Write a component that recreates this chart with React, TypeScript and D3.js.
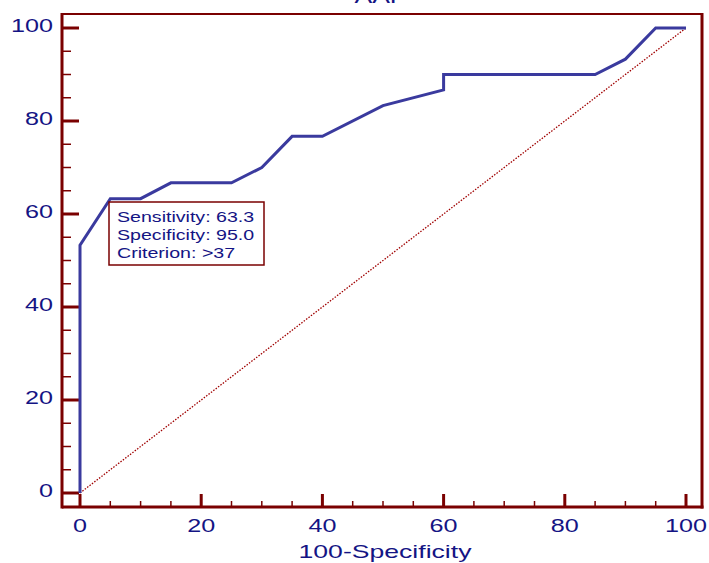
import React, {useEffect, useRef} from 'react';
import * as d3 from 'd3';

// ROC curve points (100-Specificity, Sensitivity)
const fpr = [0, 0, 5, 10, 15, 25, 30, 35, 40, 50, 60, 60, 85, 90, 95, 100];
const tpr = [0, 53.3, 63.3, 63.3, 66.7, 66.7, 70, 76.7, 76.7, 83.3, 86.7, 90, 90, 93.3, 100, 100];
const tickValues = [0, 20, 40, 60, 80, 100];
const minorTicks = [5, 10, 15, 25, 30, 35, 45, 50, 55, 65, 70, 75, 85, 90, 95];
const infoLines = ['Sensitivity: 63.3', 'Specificity: 95.0', 'Criterion: >37'];

export default function App() {
  const svgRef = useRef<SVGSVGElement>(null);

  useEffect(() => {
    const svg = d3.select(svgRef.current);
    svg.selectAll('*').remove();

    const axisColor = '#7a0000';
    const textColor = '#141484';
    const font = 'Liberation Sans, Arial, sans-serif';
    const sx = 1.4; // the original text is stretched horizontally

    const x = d3.scaleLinear().domain([0, 100]).range([80, 686]);
    const y = d3.scaleLinear().domain([0, 100]).range([493, 28]);

    const left = 62, right = 702, top = 14, bottom = 507;

    // title (mostly cut off at the top)
    svg.append('text')
      .attr('transform', `translate(381,3) scale(${sx},1)`)
      .attr('text-anchor', 'middle')
      .attr('font-family', font).attr('font-size', 19)
      .attr('fill', textColor)
      .text('AAP');

    // frame
    svg.append('line').attr('x1', left).attr('x2', right).attr('y1', top).attr('y2', top)
      .attr('stroke', axisColor).attr('stroke-width', 2);
    svg.append('line').attr('x1', right).attr('x2', right).attr('y1', top - 1).attr('y2', bottom + 1.5)
      .attr('stroke', axisColor).attr('stroke-width', 3);
    svg.append('line').attr('x1', left).attr('x2', left).attr('y1', top - 1).attr('y2', bottom + 1.5)
      .attr('stroke', axisColor).attr('stroke-width', 3);
    svg.append('line').attr('x1', left).attr('x2', right + 1.5).attr('y1', bottom).attr('y2', bottom)
      .attr('stroke', axisColor).attr('stroke-width', 3);

    // y ticks
    svg.selectAll('.ymaj').data(tickValues).enter().append('line')
      .attr('x1', left).attr('x2', left + 17)
      .attr('y1', (d) => y(d)).attr('y2', (d) => y(d))
      .attr('stroke', axisColor).attr('stroke-width', 3);
    svg.selectAll('.ymin').data(minorTicks).enter().append('line')
      .attr('x1', left).attr('x2', left + 9)
      .attr('y1', (d) => y(d)).attr('y2', (d) => y(d))
      .attr('stroke', axisColor).attr('stroke-width', 1.5);
    svg.selectAll('.ylab').data(tickValues).enter().append('text')
      .attr('transform', (d) => `translate(53,${y(d) + 4}) scale(${sx},1)`)
      .attr('text-anchor', 'end')
      .attr('font-family', font).attr('font-size', 18)
      .attr('fill', textColor)
      .text((d) => d);

    // x ticks
    svg.selectAll('.xmaj').data(tickValues).enter().append('line')
      .attr('x1', (d) => x(d)).attr('x2', (d) => x(d))
      .attr('y1', bottom).attr('y2', bottom - 13)
      .attr('stroke', axisColor).attr('stroke-width', 3);
    svg.selectAll('.xmin').data(minorTicks).enter().append('line')
      .attr('x1', (d) => x(d)).attr('x2', (d) => x(d))
      .attr('y1', bottom).attr('y2', bottom - 6)
      .attr('stroke', axisColor).attr('stroke-width', 1.5);
    svg.selectAll('.xlab').data(tickValues).enter().append('text')
      .attr('transform', (d) => `translate(${x(d)},532) scale(${sx},1)`)
      .attr('text-anchor', 'middle')
      .attr('font-family', font).attr('font-size', 18)
      .attr('fill', textColor)
      .text((d) => d);

    svg.append('text')
      .attr('transform', `translate(385,558) scale(${sx},1)`)
      .attr('text-anchor', 'middle')
      .attr('font-family', font).attr('font-size', 19)
      .attr('fill', textColor)
      .text('100-Specificity');

    // reference diagonal
    svg.append('line')
      .attr('x1', x(0)).attr('y1', y(0)).attr('x2', x(100)).attr('y2', y(100))
      .attr('stroke', '#a00000').attr('stroke-width', 1.3)
      .attr('stroke-dasharray', '1.5,1.5');

    // ROC curve
    const pts = fpr.map((f, i) => [f, tpr[i]] as [number, number]);
    const line = d3.line<[number, number]>().x((d) => x(d[0])).y((d) => y(d[1]));
    svg.append('path')
      .attr('d', line(pts))
      .attr('fill', 'none')
      .attr('stroke', '#3a3a9e')
      .attr('stroke-width', 3)
      .attr('stroke-linejoin', 'miter');

    // info box
    const g = svg.append('g').attr('transform', 'translate(109,202)');
    g.append('rect').attr('width', 155).attr('height', 63)
      .attr('fill', 'white').attr('stroke', axisColor).attr('stroke-width', 1.5);
    g.selectAll('text').data(infoLines).enter().append('text')
      .attr('transform', (d, i) => `translate(8,${20 + i * 18}) scale(${sx},1)`)
      .attr('font-family', font).attr('font-size', 14)
      .attr('fill', textColor)
      .text((d) => d);
  }, []);

  return (
    <svg
      ref={svgRef}
      width={709}
      height={563}
      style={{position: 'absolute', left: 0, top: 0, background: 'white'}}
    />
  );
}
